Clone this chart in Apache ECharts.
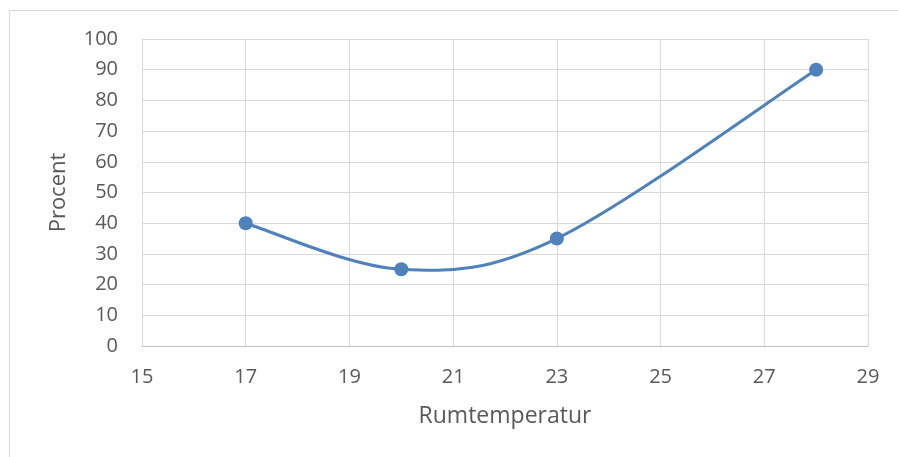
<!DOCTYPE html>
<html>
<head>
<meta charset="utf-8">
<script src="https://cdn.jsdelivr.net/npm/echarts@6/dist/echarts.min.js"></script>
<style>
  html, body { margin: 0; padding: 0; background: #fff; }
  #chart { width: 898px; height: 457px; }
</style>
</head>
<body>
<div id="chart"></div>
<script>
// Room temperature (°C) against share in percent
const temperatures = [17, 20, 23, 28];
const percentValues = [40, 25, 35, 90];

const xTitle = 'Rumtemperatur';
const yTitle = 'Procent';

const textColor = '#595959';
const gridColor = '#d9d9d9';
const lineColor = '#4F81BD';
const fontFamily = '"Open Sans", sans-serif';

const points = temperatures.map((t, i) => [t, percentValues[i]]);

// Smooth curve through all points (Catmull-Rom converted to cubic Bezier),
// computed in pixel space from the axis scales.
function renderCurve(params, api) {
  if (params.dataIndex !== 0) return null;
  const px = points.map(p => api.coord(p));
  const n = px.length;
  const k = 1 / 6;
  let d = 'M' + px[0][0] + ',' + px[0][1];
  for (let i = 0; i < n - 1; i++) {
    const p0 = px[Math.max(i - 1, 0)];
    const p1 = px[i];
    const p2 = px[i + 1];
    const p3 = px[Math.min(i + 2, n - 1)];
    const c1 = [p1[0] + (p2[0] - p0[0]) * k, p1[1] + (p2[1] - p0[1]) * k];
    const c2 = [p2[0] - (p3[0] - p1[0]) * k, p2[1] - (p3[1] - p1[1]) * k];
    d += ' C' + c1[0] + ',' + c1[1] + ' ' + c2[0] + ',' + c2[1] + ' ' + p2[0] + ',' + p2[1];
  }
  return {
    type: 'path',
    shape: { pathData: d },
    style: { fill: 'none', stroke: lineColor, lineWidth: 3 }
  };
}

const chart = echarts.init(document.getElementById('chart'), null, { renderer: 'canvas' });

chart.setOption({
  animation: false,
  backgroundColor: '#fff',
  graphic: [{
    type: 'rect',
    shape: { x: 9.5, y: 10.5, width: 900, height: 460 },
    style: { fill: 'none', stroke: '#d9d9d9', lineWidth: 1 },
    silent: true
  }],
  grid: { left: 142, right: 30, top: 39, bottom: 111, containLabel: false },
  xAxis: {
    type: 'value',
    min: 15, max: 29, interval: 2,
    name: xTitle,
    nameLocation: 'middle',
    nameGap: 59,
    nameTextStyle: { color: textColor, fontSize: 23, fontFamily },
    axisLine: { show: true, lineStyle: { color: '#bfbfbf', width: 1 } },
    axisTick: { show: false },
    axisLabel: { color: textColor, fontSize: 20, fontFamily, margin: 21 },
    splitLine: { show: true, lineStyle: { color: gridColor, width: 1 } }
  },
  yAxis: {
    type: 'value',
    min: 0, max: 100, interval: 10,
    name: yTitle,
    nameLocation: 'middle',
    nameGap: 72,
    nameTextStyle: { color: textColor, fontSize: 22, fontFamily },
    axisLine: { show: false },
    axisTick: { show: false },
    axisLabel: { color: textColor, fontSize: 20, fontFamily, margin: 24 },
    splitLine: { show: true, lineStyle: { color: gridColor, width: 1 } }
  },
  series: [{
    type: 'custom',
    renderItem: renderCurve,
    data: points,
    z: 2,
    silent: true
  }, {
    type: 'scatter',
    data: points,
    symbol: 'circle',
    symbolSize: 14,
    itemStyle: { color: lineColor, opacity: 1 },
    z: 3
  }]
});
</script>
</body>
</html>
